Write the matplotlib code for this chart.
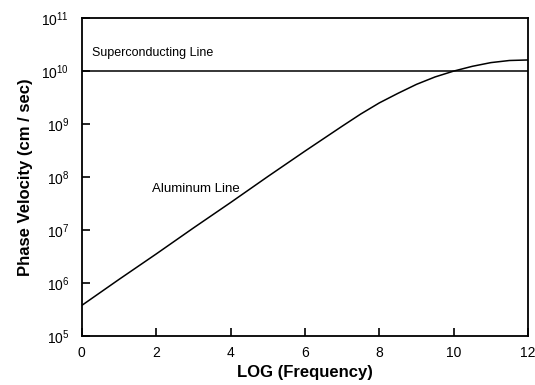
import numpy as np
import matplotlib
matplotlib.use("Agg")
import matplotlib.pyplot as plt

plt.rcParams['font.family'] = ['Liberation Sans', 'DejaVu Sans']
plt.rcParams['mathtext.fontset'] = 'custom'
plt.rcParams['mathtext.rm'] = 'Liberation Sans'
plt.rcParams['mathtext.it'] = 'Liberation Sans'
plt.rcParams['mathtext.bf'] = 'Liberation Sans:bold'

# Aluminum line: log10 of phase velocity versus log frequency
log_freq = [0, 1, 2, 3, 4, 5, 6, 7, 7.5, 8, 8.5, 9, 9.5, 10, 10.5, 11, 11.5, 12]
log_vel_aluminum = [5.58, 6.07, 6.55, 7.04, 7.52, 8.01, 8.49, 8.96, 9.19, 9.40,
                    9.58, 9.75, 9.89, 10.00, 10.09, 10.16, 10.20, 10.21]
# Superconducting line: constant phase velocity
superconducting_vel = 1.0e10

x_ticks = [0, 2, 4, 6, 8, 10, 12]
y_decades = [5, 6, 7, 8, 9, 10, 11]

fig = plt.figure(figsize=(5.35, 3.85), dpi=100)
ax = fig.add_axes([0.153, 0.127, 0.834, 0.826])

ax.plot(log_freq, 10.0 ** np.array(log_vel_aluminum), color='black', lw=1.1)
ax.axhline(superconducting_vel, color='black', lw=1.1)

ax.set_yscale('log')
ax.set_xlim(0, 12)
ax.set_ylim(1e5, 1e11)
ax.set_xticks(x_ticks)
ax.set_xticklabels([str(t) for t in x_ticks])
ax.set_yticks([10.0 ** d for d in y_decades])
ax.set_yticklabels([r'$10^{%d}$' % d for d in y_decades])
ax.yaxis.set_minor_locator(matplotlib.ticker.NullLocator())

ax.tick_params(axis='both', direction='in', length=6, width=1.2,
               labelsize=10, top=False, right=False)
ax.tick_params(axis='y', pad=9)
ax.tick_params(axis='x', pad=7)
for s in ax.spines.values():
    s.set_linewidth(1.3)

ax.text(0.28, 2.2e10, 'Superconducting Line', fontsize=9, va='center', ha='left')
ax.text(1.88, 6.0e7, 'Aluminum Line', fontsize=9.5, va='center', ha='left')

ax.set_xlabel('LOG (Frequency)', fontsize=12, fontweight='bold', labelpad=4)
ax.set_ylabel('Phase Velocity (cm / sec)', fontsize=12, fontweight='bold', labelpad=6)

fig.savefig('out.png', dpi=100)
